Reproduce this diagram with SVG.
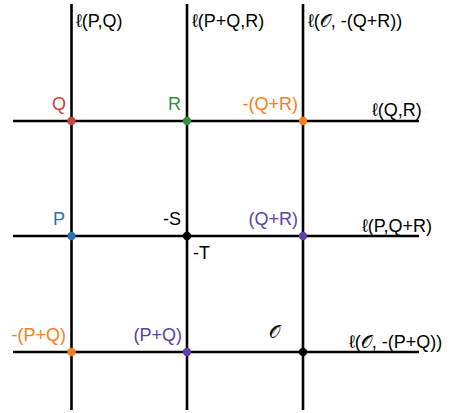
<svg xmlns="http://www.w3.org/2000/svg" width="451" height="413" viewBox="0 0 451 413">
<style>
.ln{stroke:#000;stroke-width:2.6;fill:none}
text{font-family:"Liberation Sans",Arial,sans-serif;font-size:18px;fill:#000}
.r{fill:#c74440}.g{fill:#388c46}.o{fill:#fa7e19}.b{fill:#2d70b3}.p{fill:#6042a6}.k{fill:#000}
.s{font-family:"DejaVu Serif","DejaVu Sans",serif}
</style>
<rect width="451" height="413" fill="#fff"/>
<g id="connectors">
<line class="ln" x1="71.5" y1="4" x2="71.5" y2="410"/>
<line class="ln" x1="187" y1="4" x2="187" y2="410"/>
<line class="ln" x1="303" y1="4" x2="303" y2="410"/>
<line class="ln" x1="13" y1="121" x2="419" y2="121"/>
<line class="ln" x1="13" y1="236" x2="419" y2="236"/>
<line class="ln" x1="13" y1="352" x2="419" y2="352"/>
</g>
<g id="line-labels">
<text x="76" y="27">ℓ(P,Q)</text>
<text x="192" y="27">ℓ(P+Q,R)</text>
<text x="308" y="27">ℓ(<tspan class="s">𝒪</tspan>, -(Q+R))</text>
<text x="372" y="116">ℓ(Q,R)</text>
<text x="362" y="232">ℓ(P,Q+R)</text>
<text x="349" y="348">ℓ(<tspan class="s">𝒪</tspan>, -(P+Q))</text>
</g>
<g id="Q"><circle class="r" cx="71.5" cy="121" r="4.2"/><text class="r" x="66" y="110" text-anchor="end">Q</text></g>
<g id="R"><circle class="g" cx="187" cy="121" r="4.2"/><text class="g" x="181" y="110" text-anchor="end">R</text></g>
<g id="negQR"><circle class="o" cx="303" cy="121" r="4.2"/><text class="o" x="298" y="110" text-anchor="end">-(Q+R)</text></g>
<g id="P"><circle class="b" cx="71.5" cy="236" r="4.2"/><text class="b" x="65" y="225" text-anchor="end">P</text></g>
<g id="negS"><circle class="k" cx="187" cy="236" r="4.2"/><text x="181" y="225" text-anchor="end">-S</text><text x="193" y="259">-T</text></g>
<g id="QR"><circle class="p" cx="303" cy="236" r="4.2"/><text class="p" x="298" y="225" text-anchor="end">(Q+R)</text></g>
<g id="negPQ"><circle class="o" cx="71.5" cy="352" r="4.2"/><text class="o" x="66" y="341" text-anchor="end">-(P+Q)</text></g>
<g id="PQ"><circle class="p" cx="187" cy="352" r="4.2"/><text class="p" x="182" y="341" text-anchor="end">(P+Q)</text></g>
<g id="O"><circle class="k" cx="303" cy="352" r="4.2"/><text class="s" x="269" y="338" font-size="22">𝒪</text></g>
</svg>
